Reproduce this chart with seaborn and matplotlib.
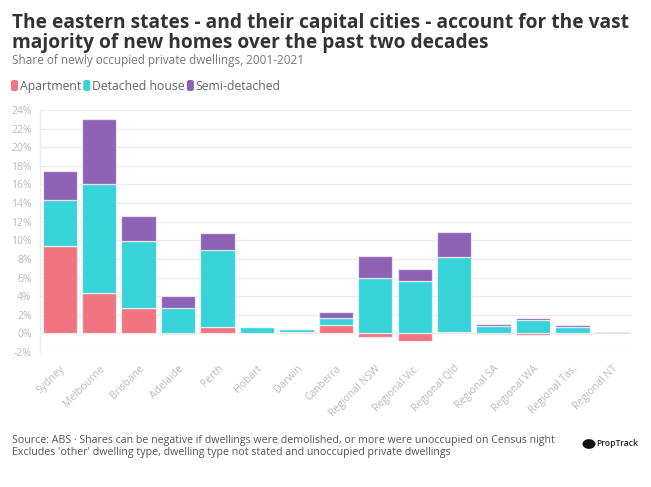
import numpy as np
import pandas as pd
import matplotlib
matplotlib.use("Agg")
import matplotlib.pyplot as plt
import seaborn as sns
from matplotlib.patches import FancyBboxPatch, Circle

categories = ["Sydney", "Melbourne", "Brisbane", "Adelaide", "Perth", "Hobart", "Darwin",
              "Canberra", "Regional NSW", "Regional Vic.", "Regional Qld", "Regional SA",
              "Regional WA", "Regional Tas.", "Regional NT"]
apartment = [9.4, 4.3, 2.7, -0.1, 0.65, 0.05, 0.2, 0.85, -0.35, -0.8, 0.2, -0.1, -0.15, -0.05, 0.0]
detached = [4.9, 11.8, 7.2, 2.7, 8.3, 0.65, 0.25, 0.8, 6.0, 5.6, 8.0, 0.8, 1.4, 0.7, 0.0]
semi = [3.1, 6.95, 2.75, 1.3, 1.8, 0.0, 0.0, 0.7, 2.3, 1.3, 2.7, 0.2, 0.25, 0.2, 0.2]
series_names = ["Apartment", "Detached house", "Semi-detached"]
colors = ["#F07580", "#38D3D9", "#8E63B5"]
yticks = list(range(-2, 25, 2))

sns.set_theme(style="white")
plt.rcParams["font.family"] = ["Open Sans", "DejaVu Sans"]

fig = plt.figure(figsize=(6.51, 4.87), dpi=100)
ax = fig.add_axes([40/651, 1-352/487, (631.7-40)/651, (352-110)/487])

pos_base = np.zeros(len(categories))
neg_base = np.zeros(len(categories))
for name, vals, col in zip(series_names, [apartment, detached, semi], colors):
    v = np.array(vals, dtype=float)
    bottom = np.where(v >= 0, pos_base, neg_base)
    df = pd.DataFrame({"cat": categories, "val": v})
    sns.barplot(data=df, x="cat", y="val", order=categories, color=col, saturation=1,
                width=0.87, bottom=bottom, edgecolor=(1, 1, 1, 0.65), linewidth=0.9, ax=ax,
                errorbar=None, zorder=3)
    pos_base = pos_base + np.where(v >= 0, v, 0)
    neg_base = neg_base + np.where(v < 0, v, 0)

ax.set_ylim(-2, 24)
ax.set_xlim(-0.5, len(categories) - 0.5)
ax.set_yticks(yticks)
ax.set_yticklabels([f"{t}%" for t in yticks], color="#bbbbbb", fontsize=7.5)
ax.yaxis.grid(True, color="#ececec", linewidth=1, zorder=0)
ax.set_axisbelow(True)
ax.set_xlabel("")
ax.set_ylabel("")
ax.set_xticks(range(len(categories)))
ax.set_xticklabels(categories, rotation=45, ha="right", rotation_mode="anchor",
                   color="#bbbbbb", fontsize=7.5)
ax.set_xticks(np.arange(-0.5, len(categories), 1), minor=True)
ax.tick_params(axis="x", which="major", length=0, pad=8)
ax.tick_params(axis="x", which="minor", length=6, color="#ececec", width=1)
ax.tick_params(axis="y", length=0, pad=6)
for s in ["top", "right", "bottom"]:
    ax.spines[s].set_visible(False)
ax.spines["left"].set_color("#ececec")
ax.spines["left"].set_linewidth(1)

# Title & subtitle
fig.text(12/651, 1-28/487, "The eastern states - and their capital cities - account for the vast",
         fontsize=13.8, fontweight="bold", color="#333333", va="baseline")
fig.text(12/651, 1-48/487, "majority of new homes over the past two decades",
         fontsize=13.8, fontweight="bold", color="#333333", va="baseline")
fig.text(12/651, 1-64/487, "Share of newly occupied private dwellings, 2001-2021",
         fontsize=8.5, color="#777777", va="baseline")

# Legend
lx = 11
for name, col in zip(series_names, colors):
    fig.patches.append(FancyBboxPatch((lx/651, 1-91/487), 7/651, 11/487,
                                      boxstyle="round,pad=0,rounding_size=0.004",
                                      transform=fig.transFigure, facecolor=col, edgecolor="none"))
    t = fig.text((lx+9)/651, 1-86/487, name, fontsize=8.8, color="#666666", va="center")
    fig.canvas.draw()
    bb = t.get_window_extent()
    lx = bb.x1 + 2

# Footer
fig.text(12/651, 1-443/487,
         "Source: ABS \u00b7 Shares can be negative if dwellings were demolished, or more were unoccupied on Census night",
         fontsize=7.7, color="#555555", va="baseline")
fig.text(12/651, 1-455/487,
         "Excludes 'other' dwelling type, dwelling type not stated and unoccupied private dwellings",
         fontsize=7.7, color="#555555", va="baseline")

# Logo
fig.patches.append(Circle((589/651, 1-444/487), 6.5/651, transform=fig.transFigure,
                          facecolor="#111111", edgecolor="none"))
fig.text(596.5/651, 1-444/487, "PropTrack", fontsize=6.2, fontweight="semibold",
         color="#222222", va="center")

fig.savefig("out.png", dpi=100)
